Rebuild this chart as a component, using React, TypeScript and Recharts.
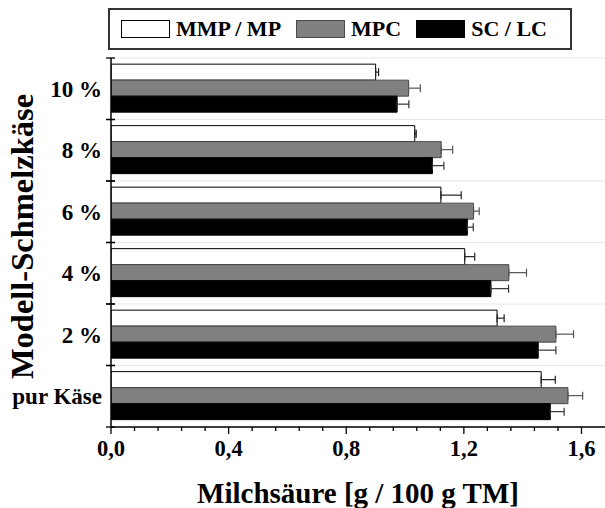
import React from 'react';
import { BarChart, Bar, XAxis, YAxis, CartesianGrid, ErrorBar, Legend } from 'recharts';

// ---- data ----
const categories = ['10 %', '8 %', '6 %', '4 %', '2 %', 'pur Käse'];
const mmpValues = [0.9, 1.033, 1.122, 1.203, 1.313, 1.463];
const mmpErrors = [0.01, 0.005, 0.069, 0.034, 0.024, 0.048];
const mpcValues = [1.012, 1.123, 1.233, 1.353, 1.513, 1.554];
const mpcErrors = [0.04, 0.039, 0.019, 0.06, 0.06, 0.05];
const scValues = [0.973, 1.093, 1.212, 1.292, 1.453, 1.494];
const scErrors = [0.04, 0.039, 0.02, 0.06, 0.06, 0.047];
const seriesNames = ['MMP / MP', 'MPC', 'SC / LC'];
const xTicks = [0, 0.08, 0.16, 0.24, 0.32, 0.4, 0.48, 0.56, 0.64, 0.72, 0.8, 0.88, 0.96, 1.04, 1.12, 1.2, 1.28, 1.36, 1.44, 1.52, 1.6];
const majorTicks = [0, 0.4, 0.8, 1.2, 1.6];
const majorTickLabels = ['0,0', '0,4', '0,8', '1,2', '1,6'];
const xDomain = [0, 1.68];
const xTitle = 'Milchsäure [g / 100 g TM]';
const yTitle = 'Modell-Schmelzkäse';

// ---- styles ----
const FONT = '"Liberation Serif", "Times New Roman", serif';
const fills = ['#ffffff', '#808080', '#000000'];
const strokes = ['#000000', '#4a4a4a', '#000000'];
const errColors = ['#222222', '#555555', '#333333'];

const W = 605;
const H = 508;
const TOP = 58;
const YAXIS_W = 111;
const XAXIS_H = 81;
const BAND = (H - TOP - XAXIS_H) / categories.length;

const data = categories.map((c, i) => ({
  name: c,
  mmp: mmpValues[i],
  mmpErr: [0, mmpErrors[i]],
  mpc: mpcValues[i],
  mpcErr: [0, mpcErrors[i]],
  sc: scValues[i],
  scErr: [0, scErrors[i]],
}));

const keys = ['mmp', 'mpc', 'sc'];

const XTick = (props: any) => {
  const { x, y, payload } = props;
  const idx = majorTicks.findIndex((m) => Math.abs(m - payload.value) < 1e-6);
  const major = idx >= 0;
  return (
    <g>
      <line x1={x} x2={x} y1={y} y2={y + (major ? 7 : 4)} stroke="#000" strokeWidth={1.3} />
      {major && (
        <text x={x} y={y + 29} textAnchor="middle" fontFamily={FONT} fontWeight="bold" fontSize={22.5} fill="#000">
          {majorTickLabels[idx]}
        </text>
      )}
    </g>
  );
};

const YTick = (props: any) => {
  const { x, y, payload } = props;
  return (
    <g>
      <line x1={x - 5} x2={x + 4} y1={y - BAND / 2} y2={y - BAND / 2} stroke="#000" strokeWidth={1.3} />
      <line x1={x - 5} x2={x + 4} y1={y + BAND / 2} y2={y + BAND / 2} stroke="#000" strokeWidth={1.3} />
      <text x={x - 9} y={y + 8} textAnchor="end" fontFamily={FONT} fontWeight="bold" fontSize={23} fill="#000">
        {payload.value}
      </text>
    </g>
  );
};

const XTitle = (props: any) => {
  const { viewBox } = props;
  const cx = viewBox.x + viewBox.width / 2;
  return (
    <text x={cx} y={viewBox.y + viewBox.height - 5} textAnchor="middle" fontFamily={FONT} fontWeight="bold" fontSize={29} fill="#000">
      {xTitle}
    </text>
  );
};

const YTitle = (props: any) => {
  const { viewBox } = props;
  const tx = viewBox.x + 33;
  const ty = viewBox.y + viewBox.height / 2 - 6;
  return (
    <text x={tx} y={ty} transform={`rotate(-90 ${tx} ${ty})`} textAnchor="middle" fontFamily={FONT} fontWeight="bold" fontSize={32.5} fill="#000">
      {yTitle}
    </text>
  );
};

const LegendBox = () => (
  <div
    style={{
      boxSizing: 'border-box',
      width: 464,
      height: 42,
      border: '2px solid #333',
      display: 'flex',
      alignItems: 'center',
      paddingLeft: 11,
      fontFamily: FONT,
      fontWeight: 'bold',
      fontSize: 22,
      color: '#000',
      background: '#fff',
    }}
  >
    {seriesNames.map((n, i) => (
      <div key={n} style={{ display: 'flex', alignItems: 'center', marginRight: 15 }}>
        <span
          style={{
            display: 'inline-block',
            boxSizing: 'border-box',
            width: 49,
            height: 18,
            background: fills[i],
            border: `1px solid ${strokes[i]}`,
          }}
        />
        <span style={{ marginLeft: 6, lineHeight: '22px' }}>{n}</span>
      </div>
    ))}
  </div>
);

export default function App() {
  return (
    <div style={{ position: 'absolute', left: 0, top: 0, background: '#fff' }}>
      <BarChart
        width={W}
        height={H}
        data={data}
        layout="vertical"
        margin={{ top: TOP, right: 0, bottom: 0, left: 0 }}
        barCategoryGap="10%"
        barGap={0}
      >
        <CartesianGrid
          vertical={false}
          stroke="#e6e6e6"
          horizontalCoordinatesGenerator={({ offset }: any) =>
            Array.from({ length: categories.length + 1 }, (_, i) => offset.top + (i * offset.height) / categories.length)
          }
        />
        <XAxis
          type="number"
          domain={xDomain}
          ticks={xTicks}
          interval={0}
          height={XAXIS_H}
          tickSize={0}
          tickMargin={0}
          tick={<XTick />}
          axisLine={{ stroke: '#000', strokeWidth: 1.5 }}
          allowDataOverflow
          label={<XTitle />}
        />
        <YAxis
          type="category"
          dataKey="name"
          width={YAXIS_W}
          tickSize={0}
          tickMargin={0}
          interval={0}
          tick={<YTick />}
          axisLine={{ stroke: '#000', strokeWidth: 1.5 }}
          label={<YTitle />}
        />
        <Legend
          layout="horizontal"
          verticalAlign="middle"
          align="center"
          wrapperStyle={{ top: 8, left: 108, width: 464, height: 42 }}
          content={() => <LegendBox />}
        />
        {keys.map((k, i) => (
          <Bar
            key={k}
            dataKey={k}
            name={seriesNames[i]}
            fill={fills[i]}
            stroke={strokes[i]}
            strokeWidth={1}
            isAnimationActive={false}
          >
            <ErrorBar dataKey={`${k}Err`} direction="x" width={4} stroke={errColors[i]} strokeWidth={1.2} />
          </Bar>
        ))}
      </BarChart>
    </div>
  );
}
